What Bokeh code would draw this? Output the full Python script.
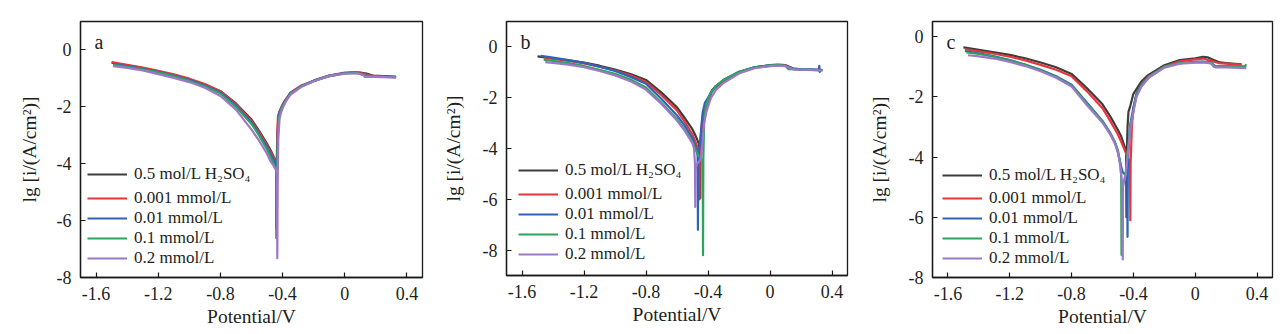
from bokeh.plotting import figure
from bokeh.models import Range1d, FixedTicker, Legend, LegendItem, Label
from bokeh.layouts import row
from bokeh.embed import file_html
from bokeh.resources import INLINE

# ---------------- data ----------------
X_TICKS = [-1.6, -1.2, -0.8, -0.4, 0, 0.4]
X_TICK_LABELS = ["-1.6", "-1.2", "-0.8", "-0.4", "0", "0.4"]
Y_TICKS = [0, -2, -4, -6, -8]
Y_TICK_LABELS = ["0", "-2", "-4", "-6", "-8"]
SERIES = ["0.5 mol/L H\u2082SO\u2084", "0.001 mmol/L", "0.01 mmol/L", "0.1 mmol/L", "0.2 mmol/L"]
COLORS = ["#3d3d3d", "#e8353a", "#2e63b8", "#2ea35e", "#9d78c8"]
X_LABEL = "Potential/V"
Y_LABEL = "lg [i/(A/cm\u00b2)]"

A_BLACK = [(-1.50,-0.45),(-1.40,-0.54),(-1.30,-0.64),(-1.20,-0.75),(-1.10,-0.88),(-1.00,-1.03),(-0.90,-1.22),(-0.80,-1.45),(-0.70,-1.88),(-0.60,-2.45),(-0.55,-2.85),(-0.50,-3.30),(-0.47,-3.60),(-0.45,-3.85),(-0.441,-3.98),(-0.439,-6.62),(-0.437,-3.95),(-0.432,-3.00),(-0.428,-2.40),(-0.420,-2.20),(-0.400,-1.95),(-0.390,-1.82),(-0.350,-1.53),(-0.280,-1.28),(-0.200,-1.10),(-0.150,-1.00),(-0.080,-0.90),(0.000,-0.82),(0.050,-0.80),(0.100,-0.80),(0.140,-0.83),(0.180,-0.90),(0.250,-0.92),(0.330,-0.95)]
A_RED = [(-1.50,-0.43),(-1.40,-0.52),(-1.30,-0.62),(-1.20,-0.73),(-1.10,-0.86),(-1.00,-1.01),(-0.90,-1.20),(-0.80,-1.45),(-0.70,-1.90),(-0.60,-2.50),(-0.55,-2.90),(-0.50,-3.35),(-0.47,-3.65),(-0.45,-3.90),(-0.442,-4.00),(-0.440,-6.30),(-0.438,-4.00),(-0.434,-2.90),(-0.430,-2.35),(-0.420,-2.15),(-0.400,-1.92),(-0.350,-1.50),(-0.280,-1.25),(-0.200,-1.08),(-0.100,-0.90),(0.000,-0.80),(0.050,-0.79),(0.100,-0.80),(0.150,-0.88),(0.200,-0.92),(0.330,-0.96)]
A_BLUE = [(-1.49,-0.50),(-1.40,-0.57),(-1.30,-0.66),(-1.20,-0.77),(-1.10,-0.90),(-1.00,-1.05),(-0.90,-1.25),(-0.80,-1.50),(-0.70,-1.95),(-0.60,-2.55),(-0.55,-2.97),(-0.50,-3.42),(-0.47,-3.75),(-0.45,-3.95),(-0.440,-4.05),(-0.437,-4.60),(-0.435,-4.10),(-0.430,-2.80),(-0.425,-2.30),(-0.410,-2.05),(-0.400,-1.95),(-0.350,-1.52),(-0.280,-1.27),(-0.200,-1.08),(-0.100,-0.90),(0.000,-0.81),(0.080,-0.80),(0.130,-0.90),(0.200,-0.92),(0.330,-0.95)]
A_GREEN = [(-1.49,-0.52),(-1.40,-0.59),(-1.30,-0.68),(-1.20,-0.79),(-1.10,-0.92),(-1.00,-1.08),(-0.90,-1.28),(-0.80,-1.53),(-0.70,-2.00),(-0.60,-2.60),(-0.55,-3.02),(-0.50,-3.50),(-0.47,-3.85),(-0.45,-4.10),(-0.440,-4.20),(-0.436,-4.50),(-0.434,-4.20),(-0.430,-3.00),(-0.425,-2.40),(-0.410,-2.10),(-0.400,-1.98),(-0.350,-1.54),(-0.280,-1.28),(-0.200,-1.09),(-0.100,-0.91),(0.000,-0.82),(0.080,-0.81),(0.130,-0.90),(0.200,-0.93),(0.330,-0.96)]
A_PURPLE = [(-1.49,-0.57),(-1.40,-0.63),(-1.30,-0.72),(-1.20,-0.85),(-1.10,-0.98),(-1.00,-1.13),(-0.90,-1.33),(-0.80,-1.62),(-0.70,-2.10),(-0.60,-2.80),(-0.55,-3.20),(-0.50,-3.65),(-0.48,-3.90),(-0.46,-4.05),(-0.445,-4.20),(-0.437,-4.30),(-0.434,-7.32),(-0.431,-4.30),(-0.428,-3.20),(-0.420,-2.45),(-0.410,-2.20),(-0.400,-2.05),(-0.380,-1.82),(-0.350,-1.58),(-0.280,-1.30),(-0.200,-1.10),(-0.100,-0.92),(0.000,-0.83),(0.080,-0.82),(0.120,-0.88),(0.130,-0.95),(0.200,-0.95),(0.330,-0.97)]

B_BLACK = [(-1.50,-0.37),(-1.40,-0.45),(-1.30,-0.53),(-1.20,-0.62),(-1.10,-0.74),(-1.00,-0.89),(-0.90,-1.07),(-0.80,-1.30),(-0.70,-1.80),(-0.60,-2.38),(-0.55,-2.80),(-0.50,-3.25),(-0.48,-3.50),(-0.46,-3.80),(-0.452,-4.20),(-0.450,-5.95),(-0.448,-4.20),(-0.440,-3.30),(-0.430,-2.95),(-0.420,-2.70),(-0.400,-2.25),(-0.375,-1.72),(-0.350,-1.55),(-0.300,-1.33),(-0.200,-1.00),(-0.100,-0.80),(0.000,-0.72),(0.050,-0.70),(0.100,-0.72),(0.150,-0.85),(0.200,-0.88),(0.330,-0.90)]
B_RED = [(-1.46,-0.42),(-1.40,-0.47),(-1.30,-0.55),(-1.20,-0.65),(-1.10,-0.78),(-1.00,-0.93),(-0.90,-1.12),(-0.80,-1.38),(-0.70,-1.90),(-0.60,-2.50),(-0.55,-2.95),(-0.50,-3.45),(-0.48,-3.75),(-0.465,-4.00),(-0.457,-4.30),(-0.455,-6.00),(-0.453,-4.30),(-0.445,-3.40),(-0.435,-2.80),(-0.420,-2.45),(-0.400,-2.10),(-0.380,-1.80),(-0.350,-1.58),(-0.300,-1.37),(-0.200,-1.02),(-0.100,-0.82),(0.000,-0.75),(0.050,-0.73),(0.100,-0.72),(0.120,-0.78),(0.150,-0.88),(0.200,-0.90),(0.330,-0.92)]
B_BLUE = [(-1.48,-0.35),(-1.40,-0.42),(-1.30,-0.52),(-1.20,-0.63),(-1.10,-0.78),(-1.00,-0.95),(-0.90,-1.18),(-0.80,-1.45),(-0.70,-2.05),(-0.60,-2.70),(-0.55,-3.10),(-0.50,-3.60),(-0.48,-3.95),(-0.470,-4.15),(-0.467,-4.30),(-0.465,-7.20),(-0.463,-4.40),(-0.455,-4.00),(-0.445,-3.30),(-0.435,-2.60),(-0.420,-2.20),(-0.400,-2.00),(-0.380,-1.78),(-0.350,-1.55),(-0.300,-1.30),(-0.200,-0.98),(-0.100,-0.80),(0.000,-0.73),(0.050,-0.72),(0.100,-0.74),(0.150,-0.85),(0.200,-0.88),(0.315,-0.90),(0.318,-0.75),(0.321,-0.98),(0.330,-0.90),(0.340,-0.92)]
B_GREEN = [(-1.46,-0.50),(-1.40,-0.55),(-1.30,-0.64),(-1.20,-0.75),(-1.10,-0.90),(-1.00,-1.06),(-0.90,-1.28),(-0.80,-1.60),(-0.70,-2.20),(-0.60,-2.85),(-0.55,-3.25),(-0.50,-3.75),(-0.48,-4.05),(-0.46,-4.30),(-0.445,-4.40),(-0.434,-4.50),(-0.432,-8.20),(-0.430,-4.40),(-0.425,-3.00),(-0.415,-2.40),(-0.400,-2.05),(-0.380,-1.80),(-0.350,-1.55),(-0.300,-1.30),(-0.200,-0.98),(-0.100,-0.80),(0.000,-0.73),(0.050,-0.72),(0.100,-0.75),(0.120,-0.88),(0.150,-0.88),(0.200,-0.90),(0.330,-0.92)]
B_PURPLE = [(-1.45,-0.60),(-1.40,-0.63),(-1.30,-0.70),(-1.20,-0.80),(-1.10,-0.95),(-1.00,-1.12),(-0.90,-1.35),(-0.80,-1.68),(-0.70,-2.25),(-0.60,-2.90),(-0.55,-3.30),(-0.50,-3.80),(-0.49,-4.00),(-0.484,-4.60),(-0.482,-6.30),(-0.480,-4.80),(-0.470,-4.60),(-0.455,-4.50),(-0.445,-4.40),(-0.435,-3.70),(-0.425,-3.00),(-0.410,-2.55),(-0.400,-2.35),(-0.380,-2.00),(-0.350,-1.70),(-0.300,-1.42),(-0.200,-1.05),(-0.100,-0.84),(0.000,-0.76),(0.050,-0.74),(0.100,-0.76),(0.150,-0.88),(0.200,-0.90),(0.340,-0.93)]

C_BLACK = [(-1.50,-0.36),(-1.40,-0.44),(-1.30,-0.52),(-1.20,-0.61),(-1.10,-0.72),(-1.00,-0.86),(-0.90,-1.02),(-0.80,-1.24),(-0.70,-1.72),(-0.60,-2.25),(-0.55,-2.65),(-0.50,-3.10),(-0.48,-3.30),(-0.46,-3.60),(-0.447,-3.85),(-0.445,-6.00),(-0.443,-3.90),(-0.438,-3.00),(-0.432,-2.50),(-0.420,-2.30),(-0.400,-1.90),(-0.350,-1.50),(-0.310,-1.30),(-0.200,-0.95),(-0.100,-0.78),(0.000,-0.72),(0.050,-0.67),(0.080,-0.69),(0.120,-0.78),(0.160,-0.86),(0.200,-0.88),(0.300,-0.92)]
C_RED = [(-1.49,-0.42),(-1.40,-0.49),(-1.30,-0.57),(-1.20,-0.67),(-1.10,-0.79),(-1.00,-0.94),(-0.90,-1.10),(-0.80,-1.32),(-0.70,-1.82),(-0.60,-2.38),(-0.55,-2.80),(-0.50,-3.25),(-0.47,-3.60),(-0.45,-3.85),(-0.430,-4.10),(-0.422,-4.20),(-0.420,-6.10),(-0.418,-4.20),(-0.410,-3.00),(-0.400,-2.40),(-0.380,-1.90),(-0.350,-1.60),(-0.300,-1.32),(-0.200,-1.00),(-0.100,-0.82),(0.000,-0.76),(0.050,-0.73),(0.100,-0.80),(0.150,-0.88),(0.200,-0.90),(0.300,-0.93)]
C_BLUE = [(-1.49,-0.48),(-1.40,-0.56),(-1.30,-0.66),(-1.20,-0.78),(-1.10,-0.93),(-1.00,-1.10),(-0.90,-1.32),(-0.80,-1.60),(-0.70,-2.20),(-0.60,-2.80),(-0.55,-3.20),(-0.52,-3.50),(-0.50,-3.85),(-0.48,-4.30),(-0.47,-4.50),(-0.455,-4.58),(-0.440,-4.50),(-0.438,-6.65),(-0.436,-4.40),(-0.430,-3.50),(-0.420,-2.90),(-0.400,-2.35),(-0.380,-1.90),(-0.350,-1.62),(-0.300,-1.35),(-0.200,-1.02),(-0.100,-0.88),(0.000,-0.84),(0.050,-0.83),(0.100,-0.86),(0.130,-0.98),(0.200,-0.98),(0.330,-1.00)]
C_GREEN = [(-1.48,-0.53),(-1.40,-0.58),(-1.30,-0.67),(-1.20,-0.79),(-1.10,-0.94),(-1.00,-1.12),(-0.90,-1.34),(-0.80,-1.62),(-0.70,-2.22),(-0.60,-2.82),(-0.55,-3.22),(-0.52,-3.50),(-0.50,-3.78),(-0.485,-4.20),(-0.479,-4.60),(-0.477,-7.25),(-0.475,-4.80),(-0.460,-4.80),(-0.450,-4.50),(-0.440,-4.00),(-0.430,-3.50),(-0.420,-3.00),(-0.400,-2.45),(-0.380,-1.95),(-0.350,-1.65),(-0.300,-1.33),(-0.200,-1.00),(-0.100,-0.88),(0.000,-0.85),(0.050,-0.84),(0.100,-0.87),(0.130,-0.98),(0.200,-0.98),(0.320,-1.00),(0.330,-0.92)]
C_PURPLE = [(-1.47,-0.62),(-1.40,-0.66),(-1.30,-0.73),(-1.20,-0.84),(-1.10,-0.98),(-1.00,-1.15),(-0.90,-1.37),(-0.80,-1.66),(-0.70,-2.28),(-0.60,-2.86),(-0.55,-3.25),(-0.52,-3.55),(-0.50,-3.85),(-0.485,-4.30),(-0.475,-4.80),(-0.471,-5.00),(-0.469,-7.40),(-0.467,-5.00),(-0.460,-4.80),(-0.450,-4.60),(-0.440,-4.10),(-0.430,-3.60),(-0.420,-3.10),(-0.400,-2.50),(-0.380,-2.00),(-0.350,-1.68),(-0.300,-1.36),(-0.200,-1.03),(-0.100,-0.90),(0.000,-0.87),(0.050,-0.86),(0.100,-0.89),(0.120,-1.00),(0.130,-1.02),(0.200,-1.02),(0.330,-1.05)]

A_Y_RANGE = (-8, 1)
B_Y_RANGE = (-9, 1)
C_Y_RANGE = (-8, 0.5)

FONT = "Liberation Serif"
TXT = "#231f20"


def make_panel(letter, series, yr, b_left, fw, b_right, b_top, fh, b_bottom,
               leg_x, leg_y1, leg_y2, ylab_standoff):
    p = figure(x_range=Range1d(-1.7, 0.5), y_range=Range1d(*yr),
               frame_width=fw, frame_height=fh,
               min_border_left=b_left, min_border_right=b_right,
               min_border_top=b_top, min_border_bottom=b_bottom,
               output_backend="svg", toolbar_location=None)
    p.xgrid.visible = False
    p.ygrid.visible = False
    p.outline_line_color = "#1a1a1a"
    p.outline_line_width = 1.3
    p.outline_line_alpha = 1.0
    p.background_fill_color = "white"
    p.border_fill_color = "white"

    for ax in (p.xaxis[0], p.yaxis[0]):
        ax.major_tick_in = 5
        ax.major_tick_out = 0
        ax.minor_tick_in = 0
        ax.minor_tick_out = 0
        ax.axis_line_color = "#1a1a1a"
        ax.axis_line_width = 1.3
        ax.major_tick_line_color = "#1a1a1a"
        ax.major_tick_line_width = 1.2
        ax.major_label_text_font = FONT
        ax.major_label_text_font_size = "18px"
        ax.major_label_text_color = TXT
        ax.axis_label_text_font = FONT
        ax.axis_label_text_font_size = "19.5px"
        ax.axis_label_text_font_style = "normal"
        ax.axis_label_text_color = TXT

    p.xaxis.ticker = FixedTicker(ticks=X_TICKS)
    p.xaxis.major_label_overrides = dict(zip(X_TICKS, X_TICK_LABELS))
    p.xaxis.major_label_standoff = 9
    p.xaxis.axis_label = X_LABEL
    p.xaxis.axis_label_standoff = 3

    p.yaxis.ticker = FixedTicker(ticks=Y_TICKS)
    p.yaxis.major_label_overrides = dict(zip(Y_TICKS, Y_TICK_LABELS))
    p.yaxis.major_label_standoff = 9
    p.yaxis.axis_label = Y_LABEL
    p.yaxis.axis_label_standoff = ylab_standoff

    renderers = []
    for pts, color in zip(series, COLORS):
        xs = [t[0] for t in pts]
        ys = [t[1] for t in pts]
        r = p.line(xs, ys, line_color=color, line_width=2.2, line_join="round")
        renderers.append(r)

    common = dict(background_fill_alpha=0, border_line_alpha=0, padding=0, margin=0,
                  spacing=0, label_height=20, glyph_height=20, glyph_width=40,
                  label_standoff=7, label_text_font=FONT, label_text_font_size="17px",
                  label_text_color=TXT, label_text_baseline="middle")
    leg1 = Legend(items=[LegendItem(label=SERIES[0], renderers=[renderers[0]])],
                  location=(leg_x, leg_y1), **common)
    leg2 = Legend(items=[LegendItem(label=s, renderers=[r]) for s, r in zip(SERIES[1:], renderers[1:])],
                  location=(leg_x, leg_y2), **common)
    p.add_layout(leg1)
    p.add_layout(leg2)

    p.add_layout(Label(x=14, y=fh - 20, x_units="screen", y_units="screen",
                       text=letter, text_font=FONT, text_font_size="20px",
                       text_baseline="alphabetic", text_align="left", text_color=TXT))
    return p


pa = make_panel("a", [A_BLACK, A_RED, A_BLUE, A_GREEN, A_PURPLE], A_Y_RANGE,
                80, 342, 8, 20, 256, 58, 7, 93, 9, 14)
pb = make_panel("b", [B_BLACK, B_RED, B_BLUE, B_GREEN, B_PURPLE], B_Y_RANGE,
                76, 341, 9, 21, 254, 59, 12, 95, 11, 16)
pc = make_panel("c", [C_BLACK, C_RED, C_BLUE, C_GREEN, C_PURPLE], C_Y_RANGE,
                76, 340, 14, 20, 256, 58, 10, 92, 9, 16)

layout = row(pa, pb, pc)
open("out.html", "w").write(file_html(layout, INLINE))
